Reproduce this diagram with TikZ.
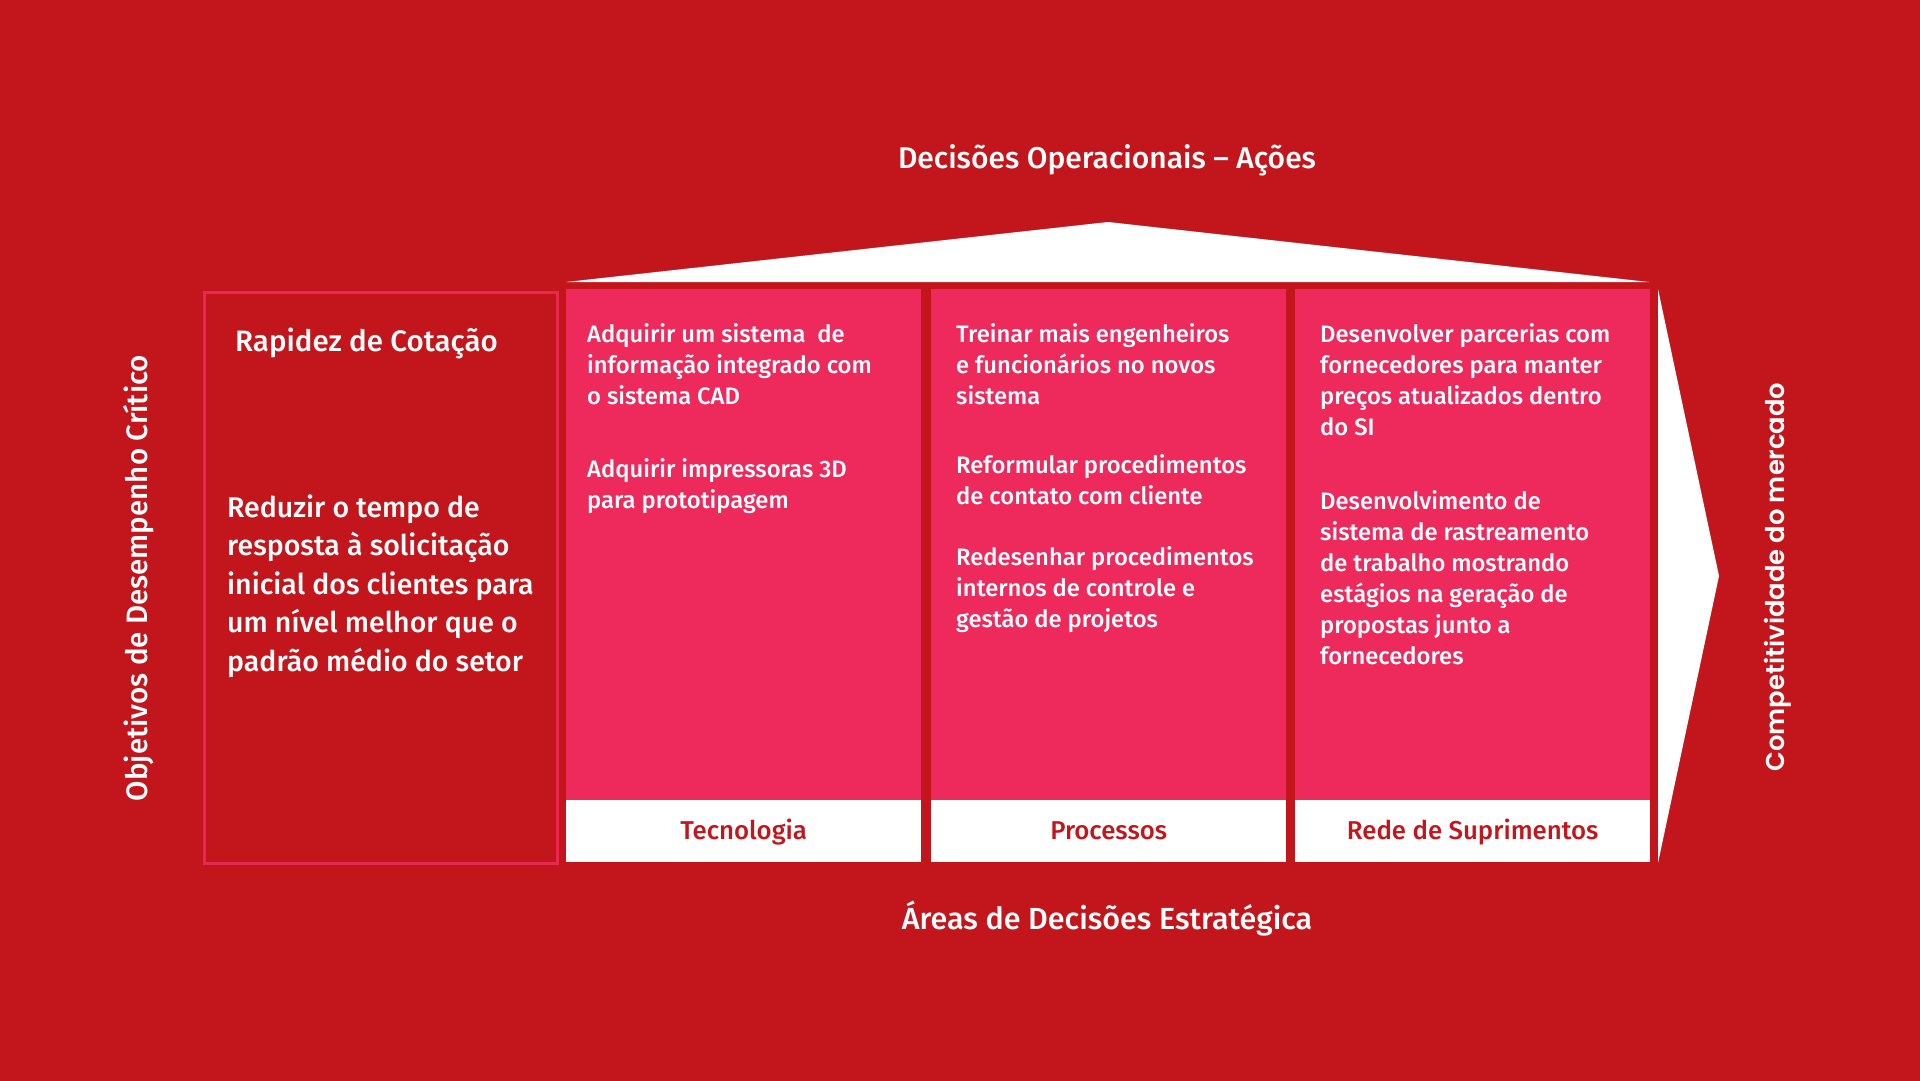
\documentclass[tikz,border=0pt]{standalone}
\usepackage{fontspec}
\setmainfont{Fira Sans}[UprightFont={* Medium}]
\newfontfamily\vertfont{Poppins}[UprightFont={* SemiBold}]

\definecolor{bgred}{HTML}{C3161C}
\definecolor{colpink}{HTML}{EE2A5C}
\definecolor{edgepink}{HTML}{E8294F}

\tikzset{
  colbox/.style={fill=colpink, draw=none, inner sep=0pt, anchor=north west,
                 minimum width=355pt, minimum height=511pt},
  labelbox/.style={fill=white, draw=none, inner sep=0pt, anchor=north west,
                   minimum width=355pt, minimum height=62pt},
  txt/.style={inner sep=0pt, text=white, anchor=base west},
  headtxt/.style={inner sep=0pt, text=white, anchor=base},
  areatxt/.style={inner sep=0pt, text=bgred, anchor=base,
                  font=\fontsize{25.8}{30}\selectfont},
}

% column text: first line baseline at the node anchor
\newcommand{\coltext}[1]{\parbox[t]{340pt}{\raggedright\fontsize{23.8}{31}\selectfont #1}}

\begin{document}
\begin{tikzpicture}[x=1pt,y=-1pt]
\useasboundingbox (0,0) rectangle (1920,1081);
\fill[bgred] (0,0) rectangle (1920,1081);

% roof and arrow head
\fill[white] (566,282) -- (1108,222) -- (1649,282) -- cycle;
\fill[white] (1658,289) -- (1719,576) -- (1658,863) -- cycle;

% objective box
\node[draw=edgepink, line width=3pt, inner sep=0pt, anchor=north west,
      minimum width=353pt, minimum height=571pt] (obj) at (202.5,290.5) {};

% decision area columns
\node[colbox] (tec) at (566,289) {};
\node[colbox] (proc) at (931,289) {};
\node[colbox] (rede) at (1295,289) {};
\node[labelbox] (tecL) at (566,800) {};
\node[labelbox] (procL) at (931,800) {};
\node[labelbox] (redeL) at (1295,800) {};

\node[areatxt] (tecT) at (tecL.center |- 0,839) {Tecnologia};
\node[areatxt] (procT) at (procL.center |- 0,839) {Processos};
\node[areatxt] (redeT) at (redeL.center |- 0,839) {Rede de Suprimentos};

% headings
\node[headtxt, font=\fontsize{30}{34}\selectfont] (acoes) at (1107,168) {Decisões Operacionais – Ações};
\node[headtxt, font=\fontsize{30.5}{34}\selectfont] (areas) at (1107,929) {Áreas de Decisões Estratégica};

% objective text
\node[txt, font=\fontsize{29.5}{34}\selectfont] (rapidez) at (235,351) {Rapidez de Cotação};
\node[txt] (reduzir) at (227,517) {\parbox[t]{340pt}{\raggedright\fontsize{28.5}{38.6}\selectfont
  Reduzir o tempo de\\ resposta à solicitação\\ inicial dos clientes para\\
  um nível melhor que o\\ padrão médio do setor}};

% actions per column
\node[txt] (tecA) at (587,342) {\coltext{Adquirir um sistema\ \ de\\ informação integrado com\\
  o sistema CAD\\[42pt] Adquirir impressoras 3D\\ para prototipagem}};
\node[txt] (procA) at (956,342) {\coltext{Treinar mais engenheiros\\ e funcionários no novos\\
  sistema\\[38pt] Reformular procedimentos\\ de contato com cliente\\[30pt]
  Redesenhar procedimentos\\ internos de controle e\\ gestão de projetos}};
\node[txt] (redeA) at (1320,342) {\coltext{Desenvolver parcerias com\\ fornecedores para manter\\
  preços atualizados dentro\\ do SI\\[43pt] Desenvolvimento de\\ sistema de rastreamento\\
  de trabalho mostrando\\ estágios na geração de\\ propostas junto a\\ fornecedores}};

% side captions
\node[inner sep=0pt, text=white, rotate=90, font=\fontsize{29.5}{34}\selectfont]
  (objetivos) at (139,578) {Objetivos de Desempenho Crítico};
\node[inner sep=0pt, text=white, rotate=90, font=\vertfont\fontsize{25.8}{30}\selectfont]
  (compet) at (1778,577) {Competitividade do mercado};
\end{tikzpicture}
\end{document}
